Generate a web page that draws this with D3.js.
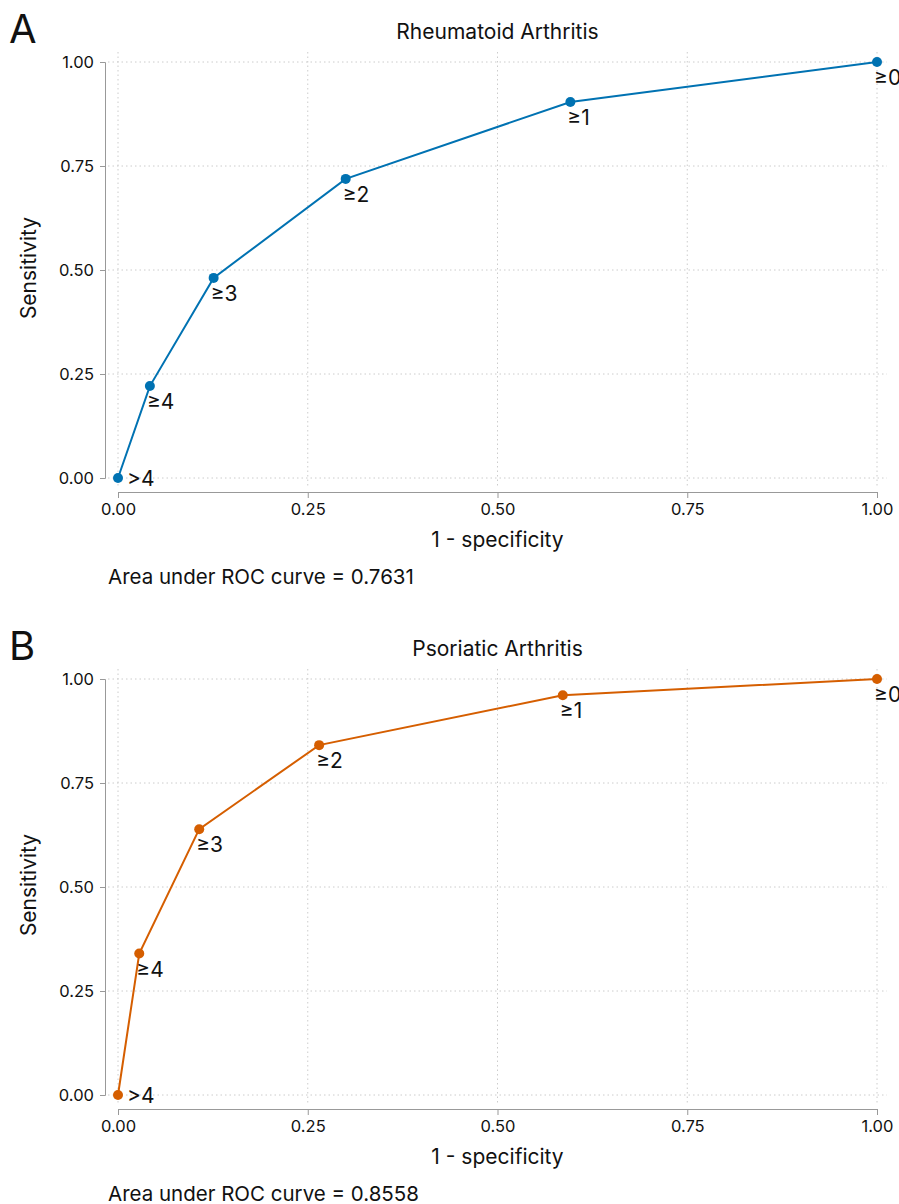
<!DOCTYPE html>
<html><head><meta charset="utf-8">
<script src="https://cdn.jsdelivr.net/npm/d3@7"></script>
<style>
body{margin:0;background:#fff;}
text{font-family:Inter,"Noto Sans",sans-serif;fill:#111;}
</style></head><body>
<svg id="c" width="899" height="1204"></svg>
<script>
const raFPR = [0, 0.042, 0.126, 0.300, 0.596, 1];
const raTPR = [0, 0.221, 0.481, 0.719, 0.904, 1];
const paFPR = [0, 0.028, 0.107, 0.265, 0.586, 1];
const paTPR = [0, 0.340, 0.639, 0.841, 0.961, 1];
const cutLabels = [">4", "≥4", "≥3", "≥2", "≥1", "≥0"];
const ticks = [0, 0.25, 0.5, 0.75, 1];
const panels = [
  {letter:"A", title:"Rheumatoid Arthritis", fpr:raFPR, tpr:raTPR, color:"#0072B2", auc:"0.7631", top:0},
  {letter:"B", title:"Psoriatic Arthritis", fpr:paFPR, tpr:paTPR, color:"#D55E00", auc:"0.8558", top:617}
];
const svg = d3.select("#c");
panels.forEach(p=>{
  const g = svg.append("g").attr("transform",`translate(0,${p.top})`);
  const x = d3.scaleLinear().domain([0,1]).range([118,877]);
  const y = d3.scaleLinear().domain([0,1]).range([478,62]);
  g.append("text").attr("x",9).attr("y",43).attr("font-size",40).text(p.letter);
  g.append("text").attr("x",497.5).attr("y",39).attr("text-anchor","middle").attr("font-size",21).text(p.title);
  const grid = g.append("g");
  ticks.forEach(t=>{
    grid.append("line").attr("x1",x(t)).attr("x2",x(t)).attr("y1",52).attr("y2",488)
      .attr("stroke","#ccc").attr("stroke-dasharray","1.5,3");
    grid.append("line").attr("x1",108).attr("x2",887).attr("y1",y(t)).attr("y2",y(t))
      .attr("stroke","#ccc").attr("stroke-dasharray","1.5,3");
  });
  const fmt = d3.format(".2f");
  const xa = g.append("g").attr("transform","translate(0,492)")
    .call(d3.axisBottom(x).tickValues(ticks).tickFormat(fmt).tickSizeOuter(0).tickSize(6).tickPadding(5));
  const ya = g.append("g").attr("transform","translate(105,0)")
    .call(d3.axisLeft(y).tickValues(ticks).tickFormat(fmt).tickSizeOuter(0).tickSize(5).tickPadding(6));
  [xa,ya].forEach(a=>{
    a.select(".domain").attr("stroke","#999");
    a.selectAll(".tick line").attr("stroke","#999");
    a.selectAll(".tick text").attr("font-size",16.5).attr("fill","#111").attr("font-family","Inter,'Noto Sans',sans-serif");
  });
  g.append("text").attr("x",497.5).attr("y",547).attr("text-anchor","middle").attr("font-size",21).text("1 - specificity");
  g.append("text").attr("transform",`translate(36,268) rotate(-90)`).attr("text-anchor","middle").attr("font-size",21).text("Sensitivity");
  g.append("text").attr("x",108).attr("y",584).attr("font-size",20.5).text("Area under ROC curve = " + p.auc);
  const pts = p.fpr.map((f,i)=>({f, t:p.tpr[i], lab:cutLabels[i]}));
  g.append("path").datum(pts).attr("fill","none").attr("stroke",p.color).attr("stroke-width",2)
    .attr("d", d3.line().x(d=>x(d.f)).y(d=>y(d.t)));
  g.selectAll("circle").data(pts).join("circle").attr("cx",d=>x(d.f)).attr("cy",d=>y(d.t)).attr("r",5).attr("fill",p.color);
  g.selectAll("text.lab").data(pts).join("text").attr("class","lab").attr("font-size",21)
    .attr("x",(d,i)=> i===0 ? x(d.f)+9 : x(d.f)-3)
    .attr("y",(d,i)=> i===0 ? y(d.t)+8 : y(d.t)+23)
    .text(d=>d.lab);
});
</script>
</body></html>
